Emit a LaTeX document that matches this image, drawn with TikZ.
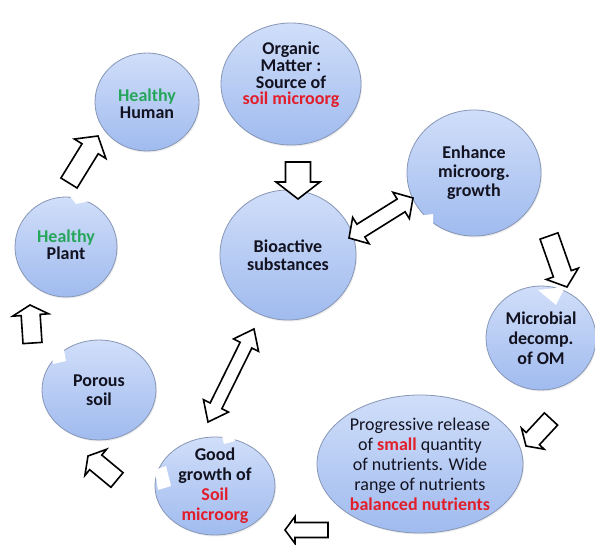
\documentclass[tikz,border=0pt]{standalone}
\usepackage{fontspec}
\setmainfont{Carlito}
\usetikzlibrary{calc,shapes.geometric,shadows}
\definecolor{cfillT}{RGB}{208,222,249}
\definecolor{cfillB}{RGB}{160,187,239}
\definecolor{cedge}{RGB}{135,150,182}
\definecolor{ctext}{RGB}{18,18,32}
\definecolor{cgreen}{RGB}{38,166,90}
\definecolor{cred}{RGB}{226,30,42}
\tikzset{
  bub/.style={ellipse, draw=cedge, line width=0.8pt, top color=cfillT, bottom color=cfillB,
    inner sep=0pt, drop shadow={opacity=0.15, shadow xshift=1pt, shadow yshift=-1.5pt}},
  lbl/.style={align=center, text=ctext, inner sep=0pt, font=\fontsize{18}{18.5}\selectfont\bfseries},
  notch/.style={fill=white, draw=none},
  barrow/.style n args={3}{draw=black, line width=1.6pt, fill=white, line join=miter,
    to path={let \p1=(\tikztostart), \p2=(\tikztotarget),
      \n1={atan2(\y2-\y1,\x2-\x1)}, \n2={veclen(\x2-\x1,\y2-\y1)} in
      ($(\p1)+(\n1+90:#1pt/2)$) -- ($(\p1)+(\n1:\n2-#3pt)+(\n1+90:#1pt/2)$)
      -- ($(\p1)+(\n1:\n2-#3pt)+(\n1+90:#2pt/2)$) -- (\p2)
      -- ($(\p1)+(\n1:\n2-#3pt)+(\n1-90:#2pt/2)$) -- ($(\p1)+(\n1:\n2-#3pt)+(\n1-90:#1pt/2)$)
      -- ($(\p1)+(\n1-90:#1pt/2)$) -- cycle}},
  dbarrow/.style n args={3}{draw=black, line width=1.6pt, fill=white, line join=miter,
    to path={let \p1=(\tikztostart), \p2=(\tikztotarget),
      \n1={atan2(\y2-\y1,\x2-\x1)}, \n2={veclen(\x2-\x1,\y2-\y1)} in
      ($(\p1)+(\n1:#3pt)+(\n1+90:#2pt/2)$) -- ($(\p1)+(\n1:#3pt)+(\n1+90:#1pt/2)$)
      -- ($(\p1)+(\n1:\n2-#3pt)+(\n1+90:#1pt/2)$) -- ($(\p1)+(\n1:\n2-#3pt)+(\n1+90:#2pt/2)$)
      -- (\p2)
      -- ($(\p1)+(\n1:\n2-#3pt)+(\n1-90:#2pt/2)$) -- ($(\p1)+(\n1:\n2-#3pt)+(\n1-90:#1pt/2)$)
      -- ($(\p1)+(\n1:#3pt)+(\n1-90:#1pt/2)$) -- ($(\p1)+(\n1:#3pt)+(\n1-90:#2pt/2)$)
      -- (\p1) -- cycle}},
}
\begin{document}
\begin{tikzpicture}[x=1pt,y=-1pt]
\useasboundingbox (0,0) rectangle (595,545);
\fill[white] (0,0) rectangle (595,545);

% bubbles
\node[bub, minimum width=140pt, minimum height=122pt] (om) at (291,84) {};
\node[bub, minimum width=104pt, minimum height=98pt] (hum) at (147,102) {};
\node[bub, minimum width=102pt, minimum height=100pt] (pla) at (66,247) {};
\node[bub, minimum width=136pt, minimum height=130pt] (bio) at (288,255) {};
\node[bub, minimum width=134pt, minimum height=126pt] (enh) at (474,173) {};
\node[bub, minimum width=110pt, minimum height=104pt] (mic) at (541,338) {};
\node[bub, minimum width=206pt, minimum height=138pt] (pro) at (420,464) {};
\node[bub, minimum width=120pt, minimum height=98pt] (goo) at (215,486) {};
\node[bub, minimum width=114pt, minimum height=100pt] (por) at (99,390) {};

% white notches on outlines
\fill[notch] (69,195) -- (86,190) -- (90,201) -- (76,204) -- cycle;
\fill[notch] (51,353) -- (64,350) -- (66,361) -- (53,364) -- cycle;
\fill[notch] (222,436) -- (233,432) -- (235,441) -- (224,444) -- cycle;
\fill[notch] (155,470) -- (166,466) -- (171,486) -- (158,490) -- cycle;
\fill[notch] (418,216) -- (433,214) -- (433,228) -- (420,229) -- cycle;
\fill[notch] (538,290) -- (565,287) -- (556,305) -- cycle;

% texts
\node[lbl, font=\fontsize{18}{16.8}\selectfont\bfseries] (omt) at ([yshift=9pt]om.center)
  {Organic\\Matter :\\Source of\\\textcolor{cred}{soil microorg}};
\node[lbl, font=\fontsize{18}{16.5}\selectfont\bfseries] (humt) at ([yshift=-2pt]hum.center)
  {\textcolor{cgreen}{Healthy}\\Human};
\node[lbl, font=\fontsize{18}{16.5}\selectfont\bfseries] (plat) at ([yshift=2pt]pla.center)
  {\textcolor{cgreen}{Healthy}\\Plant};
\node[lbl] (biot) at (bio.center) {Bioactive\\substances};
\node[lbl, font=\fontsize{18}{19}\selectfont\bfseries] (enht) at (enh.center) {Enhance\\microorg.\\growth};
\node[lbl, font=\fontsize{18}{20}\selectfont\bfseries] (mict) at (mic.center) {Microbial\\decomp.\\of OM};
\node[lbl, font=\fontsize{18}{20}\selectfont] (prot) at (pro.center)
  {Progressive release\\of \textcolor{cred}{\bfseries small} quantity\\of nutrients. Wide\\range of nutrients\\\textcolor{cred}{\bfseries balanced nutrients}};
\node[lbl, font=\fontsize{18}{20}\selectfont\bfseries] (goot) at (goo.center)
  {Good\\growth of\\\textcolor{cred}{Soil}\\\textcolor{cred}{microorg}};
\node[lbl] (port) at (por.center) {Porous\\soil};

% arrow end points
\coordinate (aAs) at (298,162); \coordinate (aAe) at (298,199);
\coordinate (aBs) at (349,238); \coordinate (aBe) at (413,198);
\coordinate (aCs) at (549,236); \coordinate (aCe) at (567,287);
\coordinate (aDs) at (551,419); \coordinate (aDe) at (526,446);
\coordinate (aEs) at (328,530); \coordinate (aEe) at (285,530);
\coordinate (aFs) at (117,480); \coordinate (aFe) at (88,456);
\coordinate (aGs) at (208,422); \coordinate (aGe) at (254,329);
\coordinate (aHs) at (32.5,343); \coordinate (aHe) at (30,305);
\coordinate (aIs) at (69,183); \coordinate (aIe) at (98,136);

% block arrows
\draw[barrow={25}{44}{17}] (aAs) to (aAe);
\draw[dbarrow={15}{31}{14}] (aBs) to (aBe);
\draw[barrow={19}{34}{14}] (aCs) to (aCe);
\draw[barrow={18}{31}{10}] (aDs) to (aDe);
\draw[barrow={15}{27}{10}] (aEs) to (aEe);
\draw[barrow={19}{34}{10}] (aFs) to (aFe);
\draw[dbarrow={13}{28}{18}] (aGs) to (aGe);
\draw[barrow={19}{36}{10}] (aHs) to (aHe);
\draw[barrow={19}{37}{15}] (aIs) to (aIe);
\end{tikzpicture}
\end{document}
